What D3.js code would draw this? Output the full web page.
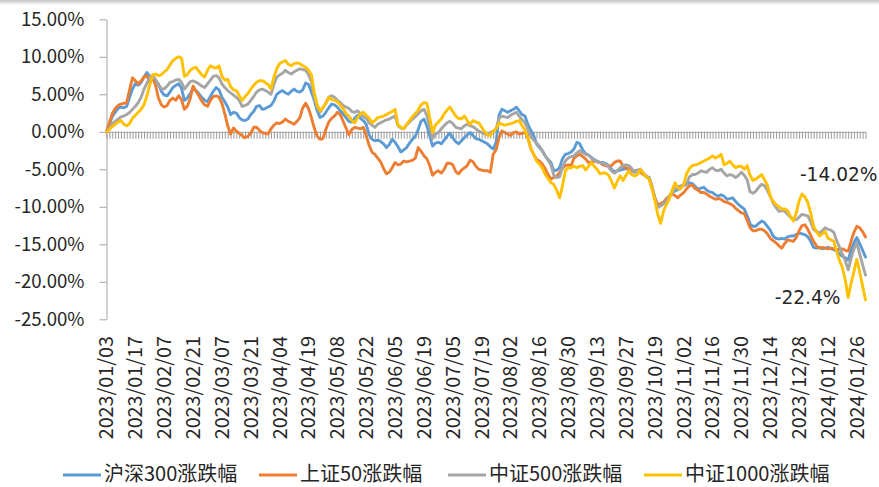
<!DOCTYPE html>
<html>
<head>
<meta charset="utf-8">
<script src="https://cdn.jsdelivr.net/npm/d3@7"></script>
<style>
  body { margin: 0; background: #fff; }
  #chart text { font-family: "Noto Sans CJK SC", "Noto Sans", sans-serif; fill: #262626; }
</style>
</head>
<body>
<div id="chart"></div>
<script>
// trading days, 2023/01/03 - 2024/01/31
const dates = [
  "2023/01/03","2023/01/04","2023/01/05","2023/01/06","2023/01/09","2023/01/10","2023/01/11","2023/01/12","2023/01/13","2023/01/16",
  "2023/01/17","2023/01/18","2023/01/19","2023/01/20","2023/01/30","2023/01/31","2023/02/01","2023/02/02","2023/02/03","2023/02/06",
  "2023/02/07","2023/02/08","2023/02/09","2023/02/10","2023/02/13","2023/02/14","2023/02/15","2023/02/16","2023/02/17","2023/02/20",
  "2023/02/21","2023/02/22","2023/02/23","2023/02/24","2023/02/27","2023/02/28","2023/03/01","2023/03/02","2023/03/03","2023/03/06",
  "2023/03/07","2023/03/08","2023/03/09","2023/03/10","2023/03/13","2023/03/14","2023/03/15","2023/03/16","2023/03/17","2023/03/20",
  "2023/03/21","2023/03/22","2023/03/23","2023/03/24","2023/03/27","2023/03/28","2023/03/29","2023/03/30","2023/03/31","2023/04/03",
  "2023/04/04","2023/04/06","2023/04/07","2023/04/10","2023/04/11","2023/04/12","2023/04/13","2023/04/14","2023/04/17","2023/04/18",
  "2023/04/19","2023/04/20","2023/04/21","2023/04/24","2023/04/25","2023/04/26","2023/04/27","2023/04/28","2023/05/04","2023/05/05",
  "2023/05/08","2023/05/09","2023/05/10","2023/05/11","2023/05/12","2023/05/15","2023/05/16","2023/05/17","2023/05/18","2023/05/19",
  "2023/05/22","2023/05/23","2023/05/24","2023/05/25","2023/05/26","2023/05/29","2023/05/30","2023/05/31","2023/06/01","2023/06/02",
  "2023/06/05","2023/06/06","2023/06/07","2023/06/08","2023/06/09","2023/06/12","2023/06/13","2023/06/14","2023/06/15","2023/06/16",
  "2023/06/19","2023/06/20","2023/06/21","2023/06/26","2023/06/27","2023/06/28","2023/06/29","2023/06/30","2023/07/03","2023/07/04",
  "2023/07/05","2023/07/06","2023/07/07","2023/07/10","2023/07/11","2023/07/12","2023/07/13","2023/07/14","2023/07/17","2023/07/18",
  "2023/07/19","2023/07/20","2023/07/21","2023/07/24","2023/07/25","2023/07/26","2023/07/27","2023/07/28","2023/07/31","2023/08/01",
  "2023/08/02","2023/08/03","2023/08/04","2023/08/07","2023/08/08","2023/08/09","2023/08/10","2023/08/11","2023/08/14","2023/08/15",
  "2023/08/16","2023/08/17","2023/08/18","2023/08/21","2023/08/22","2023/08/23","2023/08/24","2023/08/25","2023/08/28","2023/08/29",
  "2023/08/30","2023/08/31","2023/09/01","2023/09/04","2023/09/05","2023/09/06","2023/09/07","2023/09/08","2023/09/11","2023/09/12",
  "2023/09/13","2023/09/14","2023/09/15","2023/09/18","2023/09/19","2023/09/20","2023/09/21","2023/09/22","2023/09/25","2023/09/26",
  "2023/09/27","2023/09/28","2023/10/09","2023/10/10","2023/10/11","2023/10/12","2023/10/13","2023/10/16","2023/10/17","2023/10/18",
  "2023/10/19","2023/10/20","2023/10/23","2023/10/24","2023/10/25","2023/10/26","2023/10/27","2023/10/30","2023/10/31","2023/11/01",
  "2023/11/02","2023/11/03","2023/11/06","2023/11/07","2023/11/08","2023/11/09","2023/11/10","2023/11/13","2023/11/14","2023/11/15",
  "2023/11/16","2023/11/17","2023/11/20","2023/11/21","2023/11/22","2023/11/23","2023/11/24","2023/11/27","2023/11/28","2023/11/29",
  "2023/11/30","2023/12/01","2023/12/04","2023/12/05","2023/12/06","2023/12/07","2023/12/08","2023/12/11","2023/12/12","2023/12/13",
  "2023/12/14","2023/12/15","2023/12/18","2023/12/19","2023/12/20","2023/12/21","2023/12/22","2023/12/25","2023/12/26","2023/12/27",
  "2023/12/28","2023/12/29","2024/01/02","2024/01/03","2024/01/04","2024/01/05","2024/01/08","2024/01/09","2024/01/10","2024/01/11",
  "2024/01/12","2024/01/15","2024/01/16","2024/01/17","2024/01/18","2024/01/19","2024/01/22","2024/01/23","2024/01/24","2024/01/25",
  "2024/01/26","2024/01/29","2024/01/30","2024/01/31"
];

// cumulative change since 2023/01/03, in %
const hs300 = [
  0,1.0,2.0,2.6,3.1,3.3,3.2,3.4,4.6,5.7, 6.4,6.2,6.6,7.3,7.9,7.4,7.0,6.7,6.4,5.4,
  4.9,4.8,5.3,5.9,6.2,6.4,5.8,4.2,4.5,5.1, 5.7,5.5,5.1,4.6,4.2,4.0,4.7,5.4,5.9,5.6,
  4.6,4.0,3.3,2.3,2.6,2.5,1.9,1.6,1.5,1.7, 2.3,2.7,3.4,3.5,3.0,3.1,3.3,3.5,4.1,5.0,
  5.3,5.5,5.2,5.0,5.4,5.7,5.4,5.3,5.6,6.5, 6.3,5.3,4.2,2.8,1.9,2.1,2.6,3.2,3.7,3.6,
  3.3,2.8,2.4,1.9,1.4,1.3,1.8,2.2,1.8,1.5, 1.0,-0.4,-1.0,-1.2,-1.1,-1.3,-1.6,-2.1,-1.7,-1.0,
  -1.4,-2.0,-2.7,-2.4,-2.1,-1.5,-1.0,-0.6,0.3,1.4, 1.7,0.8,-0.5,-1.9,-1.5,-1.4,-1.6,-1.1,-0.6,-0.2,
  -0.8,-1.3,-1.6,-1.2,-0.8,-0.4,-0.1,-0.5,-0.9,-1.0, -1.2,-1.4,-1.6,-2.0,-2.3,-1.4,2.2,3.0,2.8,2.6,
  2.8,3.0,3.3,2.8,2.3,2.1,1.0,0.2,-0.5,-1.6, -2.1,-2.5,-3.2,-3.7,-4.1,-5.2,-5.1,-4.8,-3.6,-3.0,
  -2.9,-2.7,-2.3,-1.4,-1.6,-2.4,-2.9,-3.1,-3.4,-3.7, -3.9,-4.1,-4.1,-4.2,-4.5,-5.0,-5.3,-5.2,-5.1,-5.0,
  -4.9,-5.0,-5.2,-5.4,-5.1,-5.0,-5.6,-6.0,-6.1,-7.3, -8.8,-9.9,-9.6,-9.4,-9.1,-8.6,-8.0,-7.9,-7.7,-7.4,
  -7.2,-7.0,-6.8,-6.9,-7.3,-7.7,-7.5,-7.4,-7.8,-8.0, -8.1,-8.4,-8.6,-8.4,-8.6,-9.0,-8.9,-8.8,-9.3,-9.7,
  -10.0,-10.3,-11.2,-12.3,-12.6,-12.6,-12.2,-11.9,-12.1,-12.6, -13.1,-13.9,-14.2,-14.3,-14.2,-14.3,-14.0,-13.9,-13.9,-13.7,
  -13.5,-13.6,-13.7,-14.0,-14.6,-15.4,-15.5,-15.4,-15.6,-15.5, -15.4,-15.6,-15.7,-15.9,-16.3,-16.6,-16.8,-17.1,-15.8,-14.8,
  -14.1,-14.9,-15.8,-16.7
];

const sz50 = [
  0,1.2,2.4,3.1,3.5,3.7,3.8,3.9,5.6,7.2, 6.8,6.4,6.8,7.3,7.5,6.5,7.3,6.2,4.5,3.6,
  3.3,3.5,4.2,4.5,4.2,4.8,4.3,3.0,3.4,4.4, 6.1,5.4,4.8,4.1,3.6,3.4,4.2,4.7,4.8,4.6,
  3.8,2.4,0.8,-0.3,0.5,0.1,-0.2,-0.5,-0.8,-0.6, -0.2,0.6,0.6,0.2,-0.1,-0.2,-0.3,0.4,0.9,1.2,
  1.1,1.3,1.7,1.4,1.2,1.0,1.4,1.9,3.2,3.8, 3.1,1.9,0.5,-0.6,-1.0,-0.9,0.3,1.3,1.8,2.1,
  2.6,2.3,1.4,0.5,-0.4,0.3,0.6,0.5,0.4,0.6, -0.5,-1.8,-2.7,-3.0,-3.5,-4.0,-4.9,-5.6,-5.4,-4.8,
  -4.1,-4.4,-4.3,-3.9,-4.0,-3.9,-3.8,-3.5,-2.1,-2.6, -3.2,-3.6,-4.5,-5.8,-5.4,-5.2,-5.5,-5.0,-4.2,-4.2,
  -4.4,-5.3,-5.6,-5.1,-4.8,-4.5,-3.8,-4.0,-4.6,-5.0, -5.1,-5.2,-5.2,-5.4,-3.0,-2.4,-0.8,0.1,-0.1,-0.3,
  -0.5,-0.1,0.0,-0.3,-0.2,-0.1,-0.7,-2.2,-3.0,-3.7, -3.9,-4.3,-4.9,-5.7,-6.3,-6.1,-5.9,-5.4,-4.9,-4.5,
  -4.4,-4.5,-3.5,-3.2,-3.0,-3.3,-3.6,-4.1,-4.0,-3.9, -4.0,-4.1,-4.4,-4.5,-4.6,-4.5,-4.1,-3.9,-3.9,-4.6,
  -4.8,-4.9,-5.1,-5.2,-5.2,-5.4,-5.7,-5.9,-6.2,-7.5, -8.8,-9.7,-9.6,-9.4,-8.9,-8.6,-8.3,-8.5,-8.8,-8.4,
  -8.1,-7.6,-7.2,-7.1,-7.6,-7.8,-8.1,-8.1,-8.3,-8.6, -8.8,-9.0,-8.9,-9.0,-9.3,-9.4,-9.6,-9.8,-10.2,-10.5,
  -10.8,-10.9,-11.8,-12.8,-13.2,-13.2,-13.0,-13.0,-13.2,-13.6, -14.2,-14.5,-14.8,-15.2,-15.5,-14.9,-14.4,-14.5,-14.6,-14.1,
  -13.2,-12.5,-12.4,-13.0,-13.8,-14.6,-15.2,-15.5,-15.4,-15.5, -15.6,-15.5,-15.6,-15.7,-15.7,-15.6,-15.8,-15.9,-14.6,-13.4,
  -12.6,-12.8,-13.3,-14.02
];

const zz500 = [
  0,0.5,1.1,1.4,1.7,2.0,2.1,2.3,2.6,3.0, 3.4,3.9,4.6,5.7,6.5,7.3,7.5,7.0,6.2,5.8,
  5.7,6.1,6.6,6.7,6.9,7.0,6.6,5.7,6.2,6.7, 6.8,6.6,6.4,6.1,5.9,6.4,6.9,7.4,7.5,7.2,
  6.4,5.9,5.5,5.2,4.9,4.6,4.2,3.4,3.5,3.7, 4.2,4.7,5.3,5.6,5.7,5.5,5.3,5.0,6.3,7.3,
  7.6,7.8,8.2,7.9,7.7,8.0,8.2,8.4,8.3,8.2, 7.6,6.7,4.6,3.2,2.6,3.2,3.8,4.6,4.8,4.6,
  4.2,3.9,3.5,3.3,3.1,2.7,2.6,2.8,2.4,2.0, 1.8,1.2,0.9,0.6,1.0,1.2,1.4,1.6,1.7,1.9,
  2.1,0.8,0.5,0.4,0.9,1.3,1.7,2.0,2.4,2.8, 3.0,2.2,0.7,-0.9,-0.3,-0.1,0.4,0.8,1.2,1.4,
  1.1,0.6,0.5,0.4,0.8,1.0,0.8,0.7,0.4,0.1, -0.1,-0.3,-0.3,-0.1,0.1,0.4,1.8,2.1,2.0,1.9,
  2.2,2.4,2.6,2.1,1.6,1.2,0.3,-0.6,-1.1,-1.5, -1.9,-2.6,-3.2,-3.8,-4.4,-5.8,-6.1,-6.0,-4.7,-3.9,
  -3.5,-3.3,-3.2,-2.8,-2.5,-2.8,-3.0,-3.1,-3.5,-3.8, -4.0,-4.1,-4.2,-4.3,-4.7,-5.2,-5.5,-5.2,-4.8,-4.5,
  -4.4,-4.5,-4.9,-5.4,-5.2,-5.0,-5.5,-5.9,-6.1,-7.2, -8.9,-10.1,-9.9,-9.6,-9.2,-8.7,-8.2,-7.6,-7.3,-7.2,
  -7.1,-7.0,-6.0,-5.7,-5.7,-5.5,-5.2,-5.3,-5.4,-5.0, -4.8,-5.1,-5.2,-5.0,-5.5,-5.9,-5.7,-5.8,-6.1,-5.8,
  -5.4,-5.8,-6.4,-8.0,-8.2,-7.9,-7.4,-7.0,-7.2,-7.8, -8.6,-9.5,-10.1,-10.6,-10.5,-10.6,-11.0,-11.4,-11.6,-11.7,
  -11.4,-11.0,-11.1,-11.2,-12.0,-13.0,-13.3,-13.5,-13.2,-12.8, -13.0,-13.1,-13.4,-14.5,-15.4,-16.3,-17.2,-18.4,-16.9,-15.6,
  -14.8,-16.3,-17.7,-19.1
];

const zz1000 = [
  0,0.3,0.7,1.0,1.3,1.5,1.0,0.8,1.1,1.8, 2.2,2.6,3.0,3.6,4.8,6.3,7.6,7.7,7.5,7.6,
  8.0,8.3,8.9,9.5,9.8,10.0,9.8,7.4,7.6,8.2, 8.5,8.6,8.1,7.6,7.3,8.2,8.8,8.6,8.5,8.8,
  7.4,6.9,7.0,6.0,5.6,5.5,4.8,4.2,4.7,5.1, 5.7,6.2,6.6,6.8,6.8,6.6,6.3,5.7,7.3,8.4,
  9.1,9.3,9.5,9.0,8.8,9.1,9.2,9.1,8.8,8.6, 8.2,7.6,5.2,3.6,2.8,3.2,3.8,4.6,4.3,4.2,
  4.0,3.6,3.1,2.4,2.1,1.5,1.2,1.9,2.4,2.6, 2.2,1.8,1.2,1.5,1.9,2.0,2.1,2.3,2.5,2.7,
  3.0,0.9,0.6,0.4,1.0,1.5,2.0,2.4,2.9,3.6, 3.9,3.8,1.9,-0.1,0.9,1.3,1.7,2.4,2.9,3.3,
  2.7,2.1,1.8,1.7,2.1,1.5,1.0,1.5,1.3,1.2, 0.6,0.0,-0.4,-0.5,0.1,0.4,1.2,1.0,0.9,1.0,
  1.1,1.2,1.4,1.5,0.8,0.2,-0.8,-2.1,-3.0,-3.9, -4.3,-4.8,-5.7,-6.2,-6.8,-7.0,-7.8,-8.8,-7.2,-5.2,
  -4.8,-4.8,-4.6,-4.8,-4.6,-4.5,-5.1,-4.6,-4.1,-4.6, -5.0,-5.6,-5.5,-5.5,-5.8,-6.6,-7.5,-6.6,-5.9,-6.5,
  -5.8,-5.2,-5.7,-5.9,-5.7,-5.0,-5.5,-6.0,-6.3,-7.5, -9.1,-11.0,-12.2,-10.6,-9.7,-9.0,-7.8,-6.8,-7.5,-7.6,
  -7.0,-5.6,-4.9,-4.5,-4.4,-4.3,-4.1,-3.9,-3.7,-3.5, -3.2,-3.5,-3.3,-3.0,-4.4,-4.2,-3.9,-4.4,-4.8,-4.6,
  -4.6,-5.0,-4.5,-5.8,-6.5,-6.3,-6.0,-5.7,-6.4,-7.1, -8.6,-9.3,-9.7,-10.0,-10.3,-10.3,-10.5,-11.3,-11.9,-10.8,
  -9.2,-8.3,-8.7,-9.4,-10.8,-12.6,-13.3,-13.9,-13.6,-13.3, -14.2,-14.4,-14.6,-15.9,-17.2,-18.1,-19.8,-22.1,-20.2,-18.6,
  -17.0,-18.7,-20.6,-22.4
];

const seriesNames = ["沪深300涨跌幅", "上证50涨跌幅", "中证500涨跌幅", "中证1000涨跌幅"];
const seriesValues = [hs300, sz50, zz500, zz1000];
const seriesColors = ["#5b9bd5", "#ed7d31", "#a5a5a5", "#ffc000"];
const yTicks = [15, 10, 5, 0, -5, -10, -15, -20, -25];
const endNotes = [
  { series: 1, text: "-14.02%" },
  { series: 3, text: "-22.4%" }
];

const width = 879;
const height = 487;

const svg = d3.select("#chart")
  .append("svg")
  .attr("width", width)
  .attr("height", height);

// thin grey frame edge at the top
const grad = svg.append("defs").append("linearGradient")
  .attr("id", "topedge").attr("x1", 0).attr("y1", 0).attr("x2", 0).attr("y2", 1);
grad.append("stop").attr("offset", "0%").attr("stop-color", "#c4c4c4");
grad.append("stop").attr("offset", "100%").attr("stop-color", "#ffffff");
svg.append("rect").attr("x", 0).attr("y", 0).attr("width", width).attr("height", 5)
  .attr("fill", "url(#topedge)");

const x = d3.scalePoint()
  .domain(dates)
  .range([106.5, 865.5]);

const y = d3.scaleLinear()
  .domain([-25, 15])
  .range([319.3, 19.3]);

// y axis
const yAxis = svg.append("g")
  .attr("transform", "translate(106.5,0)")
  .call(d3.axisLeft(y)
    .tickValues(yTicks)
    .tickSize(7)
    .tickSizeOuter(0)
    .tickPadding(15)
    .tickFormat(d => d.toFixed(2) + "%"));
yAxis.select(".domain").attr("stroke", "#a6a6a6");
yAxis.selectAll(".tick line").attr("stroke", "#a6a6a6");
yAxis.selectAll(".tick text").attr("font-size", "18.6px");

// x axis through zero, a tick for each trading day
const xAxis = svg.append("g")
  .attr("transform", `translate(0,${y(0)})`)
  .call(d3.axisBottom(x).tickSize(7).tickSizeOuter(0).tickFormat(""));
xAxis.select(".domain").attr("stroke", "#a6a6a6");
xAxis.selectAll(".tick line").attr("stroke", "#999");

// date labels sit at the bottom of the plot, every 10th day
svg.append("g")
  .selectAll("text")
  .data(dates.filter((d, i) => i % 10 === 0))
  .join("text")
    .attr("transform", d => `translate(${x(d)},336) rotate(-90)`)
    .attr("text-anchor", "end")
    .attr("dy", "0.35em")
    .attr("font-size", "19.8px")
    .text(d => d);

// lines
const line = d3.line()
  .x((d, i) => x(dates[i]))
  .y(d => y(d));

svg.append("g")
  .selectAll("path")
  .data(seriesValues)
  .join("path")
    .attr("fill", "none")
    .attr("stroke", (d, i) => seriesColors[i])
    .attr("stroke-width", 2.9)
    .attr("stroke-linejoin", "round")
    .attr("stroke-linecap", "round")
    .attr("d", line);

// end value notes
const last = dates[dates.length - 1];
svg.append("text")
  .attr("x", x(last) + 12)
  .attr("y", y(seriesValues[endNotes[0].series][dates.length - 1]) - 56)
  .attr("text-anchor", "end")
  .attr("font-size", "18.6px")
  .style("font-family", "'DejaVu Sans', sans-serif")
  .text(endNotes[0].text);
svg.append("text")
  .attr("x", x(last) - 25)
  .attr("y", y(seriesValues[endNotes[1].series][dates.length - 1]) + 4)
  .attr("text-anchor", "end")
  .attr("font-size", "18.6px")
  .style("font-family", "'DejaVu Sans', sans-serif")
  .text(endNotes[1].text);

// legend
const legendX = [63, 259, 448, 644];
const legend = svg.append("g")
  .selectAll("g")
  .data(seriesNames)
  .join("g")
    .attr("transform", (d, i) => `translate(${legendX[i]},475)`);
legend.append("line")
  .attr("x1", 0).attr("x2", 38)
  .attr("stroke", (d, i) => seriesColors[i])
  .attr("stroke-width", 2.9);
legend.append("text")
  .attr("x", 41)
  .attr("dy", "0.3em")
  .attr("font-size", "20px")
  .text(d => d);
</script>
</body>
</html>
